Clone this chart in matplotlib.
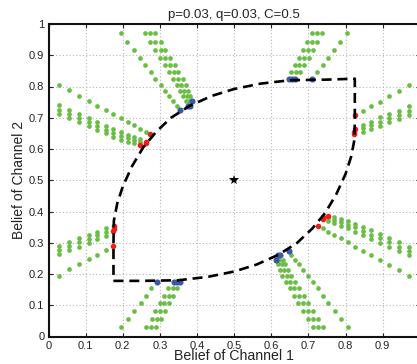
import matplotlib
matplotlib.use('Agg')
import matplotlib.pyplot as plt

plt.rcParams['font.family'] = ['Liberation Sans', 'DejaVu Sans']

# ---------------- data ----------------
# boundary (dashed) curve
curve_x = [0.175, 0.25, 0.35, 0.43, 0.50, 0.56, 0.62, 0.67, 0.71, 0.745, 0.775, 0.800, 0.815, 0.824, 0.825, 0.825,
           0.75, 0.65, 0.57, 0.50, 0.44, 0.38, 0.33, 0.29, 0.255, 0.225, 0.200, 0.185, 0.176, 0.175, 0.175]
curve_y = [0.178, 0.178, 0.180, 0.191, 0.208, 0.230, 0.262, 0.300, 0.345, 0.395, 0.455, 0.520, 0.575, 0.630, 0.700, 0.825,
           0.822, 0.820, 0.809, 0.792, 0.770, 0.738, 0.700, 0.655, 0.605, 0.545, 0.480, 0.425, 0.370, 0.300, 0.178]

star_x = [0.5]
star_y = [0.5]

# arm: left, upper (horizontal, red tips)
LU_x = [0.029, 0.056, 0.083, 0.108, 0.131, 0.154, 0.175, 0.194, 0.213, 0.231, 0.246, 0.262]
LU_line_y = [0.806, 0.788, 0.771, 0.754, 0.739, 0.725, 0.712, 0.698, 0.686, 0.676, 0.665, 0.654]
LU_band_y = [[0.740, 0.726, 0.712], [0.726, 0.712, 0.698], [0.712, 0.698, 0.685], [0.700, 0.686, 0.673],
             [0.687, 0.674, 0.660], [0.675, 0.662, 0.650], [0.664, 0.651, 0.639], [0.654, 0.642, 0.630],
             [0.646, 0.635, 0.624], [0.638, 0.628, 0.619], [0.631, 0.622]]
LU_red_x = [0.274, 0.246, 0.262, 0.262]
LU_red_y = [0.647, 0.613, 0.624, 0.618]

# arm: right, lower (horizontal, red tips)
RL_x = [0.971, 0.944, 0.917, 0.892, 0.869, 0.846, 0.825, 0.806, 0.787, 0.769, 0.754, 0.738]
RL_line_y = [0.194, 0.212, 0.229, 0.246, 0.261, 0.275, 0.288, 0.302, 0.314, 0.324, 0.335, 0.346]
RL_band_y = [[0.260, 0.274, 0.288], [0.274, 0.288, 0.302], [0.288, 0.302, 0.315], [0.300, 0.314, 0.327],
             [0.313, 0.326, 0.340], [0.325, 0.338, 0.350], [0.336, 0.349, 0.361], [0.346, 0.358, 0.370],
             [0.354, 0.365, 0.376], [0.362, 0.372, 0.381], [0.369, 0.378]]
RL_red_x = [0.726, 0.754, 0.738, 0.738]
RL_red_y = [0.353, 0.387, 0.376, 0.382]

# arm: up, left (vertical, blue tips)
UL_y = [0.971, 0.944, 0.917, 0.892, 0.869, 0.846, 0.825, 0.806, 0.787, 0.769, 0.754, 0.738]
UL_line_x = [0.194, 0.212, 0.229, 0.246, 0.261, 0.275, 0.288, 0.302, 0.314, 0.324, 0.335, 0.346]
UL_band_x = [[0.260, 0.274, 0.288], [0.274, 0.288, 0.302], [0.288, 0.302, 0.315], [0.300, 0.314, 0.327],
             [0.313, 0.326, 0.340], [0.325, 0.338, 0.350], [0.336, 0.349, 0.361], [0.346, 0.358, 0.370],
             [0.354, 0.365, 0.376], [0.362, 0.372, 0.381], [0.369, 0.378]]
UL_blue_x = [0.353, 0.387, 0.376, 0.382]
UL_blue_y = [0.726, 0.754, 0.738, 0.738]

# arm: down, right (vertical, blue tips)
DR_y = [0.029, 0.056, 0.083, 0.108, 0.131, 0.154, 0.175, 0.194, 0.213, 0.231, 0.246, 0.262]
DR_line_x = [0.806, 0.788, 0.771, 0.754, 0.739, 0.725, 0.712, 0.698, 0.686, 0.676, 0.665, 0.654]
DR_band_x = [[0.740, 0.726, 0.712], [0.726, 0.712, 0.698], [0.712, 0.698, 0.685], [0.700, 0.686, 0.673],
             [0.687, 0.674, 0.660], [0.675, 0.662, 0.650], [0.664, 0.651, 0.639], [0.654, 0.642, 0.630],
             [0.646, 0.635, 0.624], [0.638, 0.628, 0.619], [0.631, 0.622]]
DR_blue_x = [0.647, 0.613, 0.624, 0.618]
DR_blue_y = [0.274, 0.246, 0.262, 0.262]

# arm: left, lower (horizontal, red tips)
LL_x = [0.029, 0.056, 0.083, 0.108, 0.131, 0.154]
LL_line_y = [0.195, 0.215, 0.231, 0.248, 0.262, 0.277]
LL_band_y = [[0.263, 0.277, 0.290], [0.278, 0.291, 0.303], [0.288, 0.301, 0.314],
             [0.299, 0.312, 0.325], [0.312, 0.324, 0.336], [0.322, 0.334, 0.346]]
LL_red_x = [0.175, 0.175, 0.176, 0.176]
LL_red_y = [0.291, 0.337, 0.345, 0.353]

# arm: right, upper (horizontal, red tips)
RU_x = [0.971, 0.944, 0.917, 0.892, 0.869, 0.846]
RU_line_y = [0.805, 0.785, 0.769, 0.752, 0.738, 0.723]
RU_band_y = [[0.737, 0.723, 0.710], [0.722, 0.709, 0.697], [0.712, 0.699, 0.686],
             [0.701, 0.688, 0.675], [0.688, 0.676, 0.664], [0.678, 0.666, 0.654]]
RU_red_x = [0.825, 0.825, 0.824, 0.824]
RU_red_y = [0.709, 0.663, 0.655, 0.647]

# arm: up, right (vertical, blue tips)
UR_y = [0.971, 0.944, 0.917, 0.892, 0.869, 0.846]
UR_line_x = [0.805, 0.785, 0.769, 0.752, 0.738, 0.723]
UR_band_x = [[0.737, 0.723, 0.710], [0.722, 0.709, 0.697], [0.712, 0.699, 0.686],
             [0.701, 0.688, 0.675], [0.688, 0.676, 0.664], [0.678, 0.666, 0.654]]
UR_blue_x = [0.709, 0.663, 0.655, 0.647]
UR_blue_y = [0.825, 0.825, 0.824, 0.824]

# arm: down, left (vertical, blue tips)
DL_y = [0.029, 0.056, 0.083, 0.108, 0.131, 0.154]
DL_line_x = [0.195, 0.215, 0.231, 0.248, 0.262, 0.277]
DL_band_x = [[0.263, 0.277, 0.290], [0.278, 0.291, 0.303], [0.288, 0.301, 0.314],
             [0.299, 0.312, 0.325], [0.312, 0.324, 0.336], [0.322, 0.334, 0.346]]
DL_blue_x = [0.291, 0.337, 0.345, 0.353]
DL_blue_y = [0.175, 0.175, 0.176, 0.176]

ticks = [0, 0.1, 0.2, 0.3, 0.4, 0.5, 0.6, 0.7, 0.8, 0.9, 1.0]
x_tick_labels = ['0', '0.1', '0.2', '0.3', '0.4', '0.5', '0.6', '0.7', '0.8', '0.9', '']
y_tick_labels = ['0', '0.1', '0.2', '0.3', '0.4', '0.5', '0.6', '0.7', '0.8', '0.9', '1']

# ---------------- style ----------------
GREEN = '#6abe45'
RED = '#ee1d1d'
BLUE = '#3a58a8'
MS_G = 3.4
MS_R = 4.0
MS_B = 4.4

fig = plt.figure(figsize=(4.17, 3.64), dpi=100)
ax = fig.add_axes([48.5 / 417, (364 - 336.5) / 364, 371.3 / 417, 312.5 / 364])


def green(xs, ys):
    ax.plot(xs, ys, 'o', color=GREEN, ms=MS_G, mew=0, zorder=3)


def horizontal_arm(cols, line_y, band_y):
    green(cols, line_y)
    for c, ys in zip(cols, band_y):
        green([c] * len(ys), ys)


def vertical_arm(rows, line_x, band_x):
    green(line_x, rows)
    for r, xs in zip(rows, band_x):
        green(xs, [r] * len(xs))


horizontal_arm(LU_x, LU_line_y, LU_band_y)
horizontal_arm(RL_x, RL_line_y, RL_band_y)
horizontal_arm(LL_x, LL_line_y, LL_band_y)
horizontal_arm(RU_x, RU_line_y, RU_band_y)
vertical_arm(UL_y, UL_line_x, UL_band_x)
vertical_arm(DR_y, DR_line_x, DR_band_x)
vertical_arm(UR_y, UR_line_x, UR_band_x)
vertical_arm(DL_y, DL_line_x, DL_band_x)

for xs, ys in [(LU_red_x, LU_red_y), (RL_red_x, RL_red_y), (LL_red_x, LL_red_y), (RU_red_x, RU_red_y)]:
    ax.plot(xs, ys, 'o', color=RED, ms=MS_R, mew=0, zorder=4)
for xs, ys in [(UL_blue_x, UL_blue_y), (DR_blue_x, DR_blue_y), (UR_blue_x, UR_blue_y), (DL_blue_x, DL_blue_y)]:
    ax.plot(xs, ys, 'o', color=BLUE, ms=MS_B, mew=0, zorder=4)

ax.plot(curve_x, curve_y, '--', color='black', lw=1.9, dashes=(3.8, 2.2), zorder=5)
ax.plot(star_x, star_y, '*', color='black', ms=7, mew=0, zorder=6)

ax.set_xlim(0, 1)
ax.set_ylim(0, 1)
ax.set_xticks(ticks)
ax.set_xticklabels(x_tick_labels)
ax.set_yticks(ticks)
ax.set_yticklabels(y_tick_labels)
ax.grid(True, linestyle=(0, (1, 2)), color='#b4b4b4', linewidth=0.8)
ax.set_axisbelow(True)
ax.tick_params(direction='in', length=3, width=0.8, top=True, right=True, labelsize=8, pad=3, colors='#222222')
for s in ax.spines.values():
    s.set_linewidth(1.5)
    s.set_color('#111111')

ax.set_xlabel('Belief of Channel 1', fontsize=10.2, labelpad=-1, color='#222222')
ax.set_ylabel('Belief of Channel 2', fontsize=10, labelpad=2, color='#222222')
ax.set_title('p=0.03, q=0.03, C=0.5', fontsize=9.5, pad=4, color='#222222')

fig.savefig('out.png', dpi=100)
